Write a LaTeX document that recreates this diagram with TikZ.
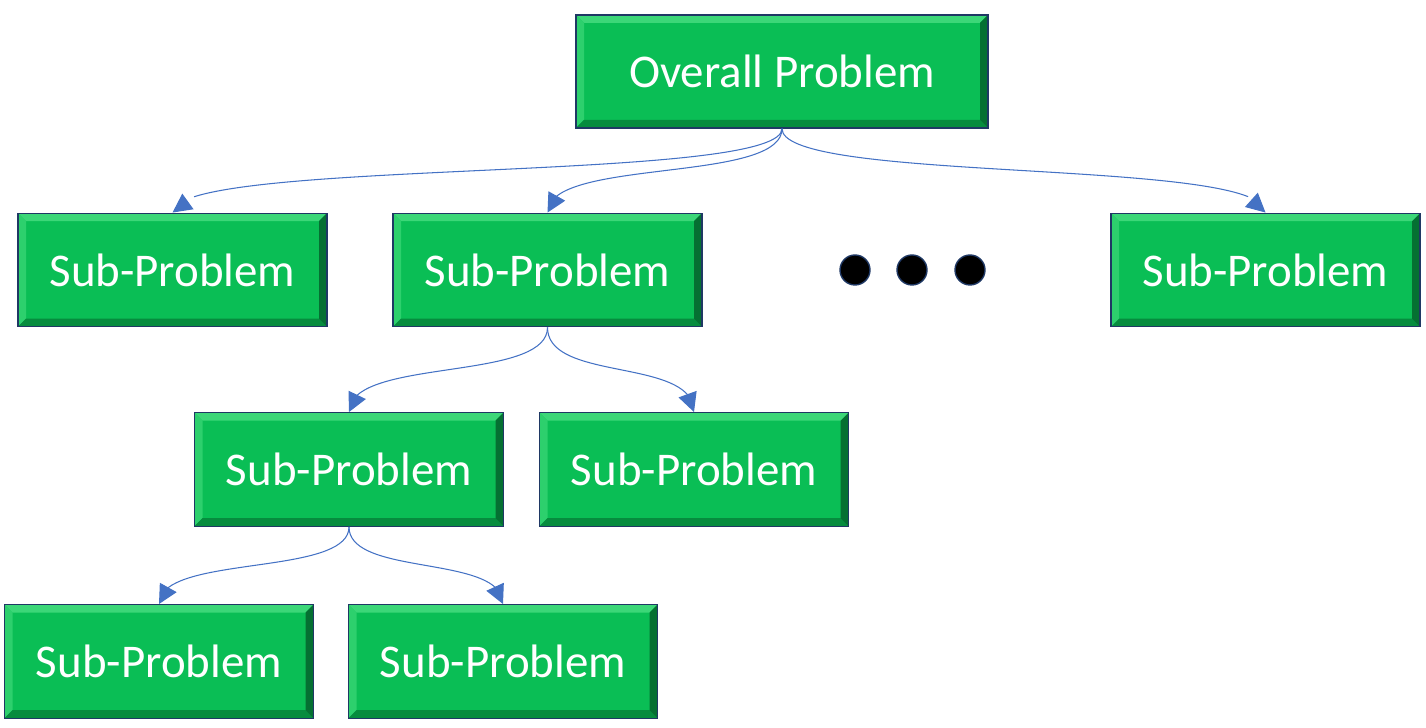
\documentclass[tikz,border=0pt]{standalone}
\usepackage{fontspec}
\setmainfont{Carlito}
\usepackage{xcolor}
\usepackage{tikz}
\usetikzlibrary{
    positioning,
    arrows.meta,
    bending
}

\definecolor{boxgreen}{RGB}{10,190,85}
\definecolor{boxlight}{RGB}{60,215,120}
\definecolor{boxdark}{RGB}{6,140,62}
\definecolor{boxedge}{RGB}{31,56,100}
\definecolor{linkblue}{RGB}{68,114,196}

\begin{document}
\begin{tikzpicture}[
      problem/.style={draw=boxedge, line width=0.8pt, fill=boxgreen, minimum width=6.18cm, minimum height=2.27cm,
        align=center, text=white, font=\fontsize{26.7}{32}\selectfont,
        path picture={
          \fill[boxlight] (path picture bounding box.north west) -- (path picture bounding box.north east)
            -- ([shift={(-0.16,-0.16)}]path picture bounding box.north east) -- ([shift={(0.16,-0.16)}]path picture bounding box.north west) -- cycle;
          \fill[boxlight!70!boxgreen] (path picture bounding box.north west) -- (path picture bounding box.south west)
            -- ([shift={(0.16,0.16)}]path picture bounding box.south west) -- ([shift={(0.16,-0.16)}]path picture bounding box.north west) -- cycle;
          \fill[boxdark] (path picture bounding box.south west) -- (path picture bounding box.south east)
            -- ([shift={(-0.16,0.16)}]path picture bounding box.south east) -- ([shift={(0.16,0.16)}]path picture bounding box.south west) -- cycle;
          \fill[boxdark!80!black] (path picture bounding box.north east) -- (path picture bounding box.south east)
            -- ([shift={(-0.16,0.16)}]path picture bounding box.south east) -- ([shift={(-0.16,-0.16)}]path picture bounding box.north east) -- cycle;
        }},
      overall/.style={problem, minimum width=8.24cm, minimum height=2.26cm},
      link/.style={draw=linkblue, line width=0.6pt, -{Triangle[length=0.38cm, width=0.38cm, flex]}},
      dot/.style={circle, draw=boxedge, line width=0.8pt, fill=black, minimum size=0.6cm, inner sep=0pt}
    ]
    \useasboundingbox (0,0) rectangle (28.52,14.56);

    \node[overall] (top) at (15.64,13.13) {Overall Problem};

    \node[problem] (subA) at (3.45,9.16) {Sub-Problem};
    \node[problem] (subB) at (10.95,9.16) {Sub-Problem};
    \node[problem] (subN) at (25.31,9.16) {Sub-Problem};

    \node[dot] (dotA) at (17.10,9.16) {};
    \node[dot] (dotB) at (18.24,9.16) {};
    \node[dot] (dotC) at (19.40,9.16) {};

    \node[problem] (subBA) at (6.98,5.17) {Sub-Problem};
    \node[problem] (subBB) at (13.88,5.17) {Sub-Problem};

    \node[problem] (subBAA) at (3.18,1.33) {Sub-Problem};
    \node[problem] (subBAB) at (10.06,1.33) {Sub-Problem};

    \draw[link] (top.south) .. controls +(0,-1.1) and +(0,1.1) .. (subA.north);
    \draw[link] (top.south) .. controls +(0,-1.1) and +(0,1.1) .. (subB.north);
    \draw[link] (top.south) .. controls +(0,-1.1) and +(0,1.1) .. (subN.north);

    \draw[link] (subB.south) .. controls +(0,-1.1) and +(0,1.1) .. (subBA.north);
    \draw[link] (subB.south) .. controls +(0,-1.1) and +(0,1.1) .. (subBB.north);

    \draw[link] (subBA.south) .. controls +(0,-1.0) and +(0,1.0) .. (subBAA.north);
    \draw[link] (subBA.south) .. controls +(0,-1.0) and +(0,1.0) .. (subBAB.north);
  \end{tikzpicture}
\end{document}
